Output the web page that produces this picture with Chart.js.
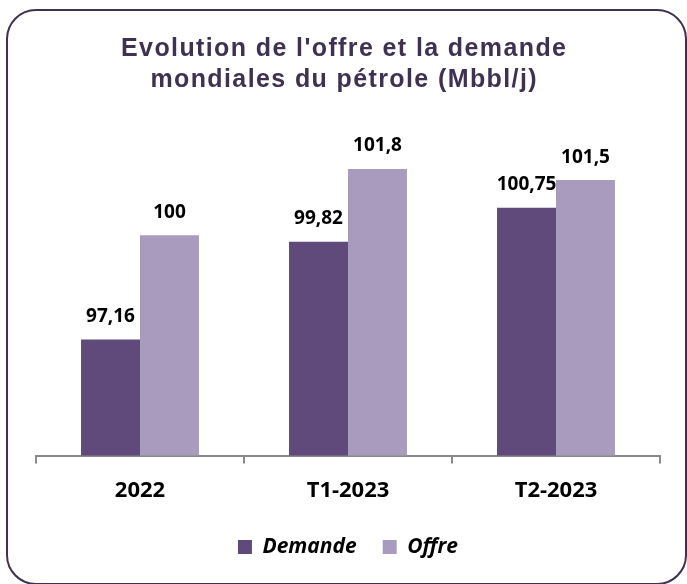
<!DOCTYPE html>
<html>
<head>
<meta charset="utf-8">
<script src="https://cdn.jsdelivr.net/npm/chart.js@4"></script>
<style>
  html, body { margin: 0; padding: 0; background: #fff; }
  #wrap { position: relative; width: 687px; height: 584px; overflow: hidden; }
  #frame { position: absolute; left: 6px; top: 9px; width: 677px; height: 572px;
           border: 2px solid #3F3151; border-radius: 30px; box-sizing: content-box; }
  #c { position: absolute; left: 0; top: 0; }
</style>
</head>
<body>
<div id="wrap">
  <div id="frame"></div>
  <canvas id="c" width="687" height="584"></canvas>
</div>
<script>
const categories = ['2022', 'T1-2023', 'T2-2023'];
const demande = [97.16, 99.82, 100.75];
const offre = [100, 101.8, 101.5];
const seriesNames = ['Demande', 'Offre'];
const titleLines = ["Evolution de l'offre et la demande", "mondiales du pétrole (Mbbl/j)"];

const titlePlugin = {
  id: 'spacedTitle',
  afterDraw(chart) {
    const ctx = chart.ctx;
    ctx.save();
    ctx.font = 'bold 25px "Liberation Sans", Arial, sans-serif';
    ctx.fillStyle = '#3F3151';
    ctx.textAlign = 'center';
    ctx.textBaseline = 'middle';
    const base = ctx.measureText(titleLines[0]).width;
    const target = 445;
    const sp = Math.max(0, (target - base) / (titleLines[0].length - 1));
    if ('letterSpacing' in ctx) ctx.letterSpacing = sp.toFixed(2) + 'px';
    const cx = 343.5 + ('letterSpacing' in ctx ? sp / 2 : 0);
    ctx.fillText(titleLines[0], cx, 49);
    ctx.fillText(titleLines[1], cx, 80);
    ctx.restore();
  }
};

const valueLabels = {
  id: 'valueLabels',
  afterDatasetsDraw(chart) {
    const ctx = chart.ctx;
    ctx.save();
    ctx.font = 'bold 19px "Open Sans"';
    ctx.fillStyle = '#000';
    ctx.textAlign = 'center';
    ctx.textBaseline = 'middle';
    chart.data.datasets.forEach((ds, i) => {
      const meta = chart.getDatasetMeta(i);
      meta.data.forEach((bar, j) => {
        const txt = String(ds.data[j]).replace('.', ',');
        ctx.fillText(txt, bar.x, bar.y - 23);
      });
    });
    ctx.restore();
  }
};

new Chart(document.getElementById('c'), {
  type: 'bar',
  data: {
    labels: categories,
    datasets: [
      { label: seriesNames[0], data: demande, backgroundColor: '#604A7B', borderWidth: 0,
        categoryPercentage: 0.567, barPercentage: 1.0 },
      { label: seriesNames[1], data: offre, backgroundColor: '#A99BBD', borderWidth: 0,
        categoryPercentage: 0.567, barPercentage: 1.0 }
    ]
  },
  options: {
    responsive: false,
    animation: false,
    devicePixelRatio: 1,
    layout: { padding: { left: 36, right: 27, top: 125, bottom: 16.5 } },
    plugins: {
      title: { display: false },
      legend: {
        position: 'bottom',
        labels: {
          boxWidth: 14, boxHeight: 14, padding: 26,
          color: '#000',
          font: { family: '"Open Sans", sans-serif', size: 21, weight: 'bold', style: 'italic' }
        }
      },
      tooltip: { enabled: false }
    },
    scales: {
      x: {
        grid: { display: true, drawOnChartArea: false, drawTicks: true, tickLength: 8,
                color: '#898989', lineWidth: 2, offset: true },
        border: { display: true, color: '#898989', width: 2 },
        ticks: { color: '#000', padding: 14,
                 font: { family: '"Open Sans", sans-serif', size: 22, weight: 'bold' } },
        afterFit(scale) { scale.height -= 7.5; }
      },
      y: {
        display: false,
        min: 94,
        max: 103
      }
    }
  },
  plugins: [valueLabels, titlePlugin]
});
</script>
</body>
</html>
